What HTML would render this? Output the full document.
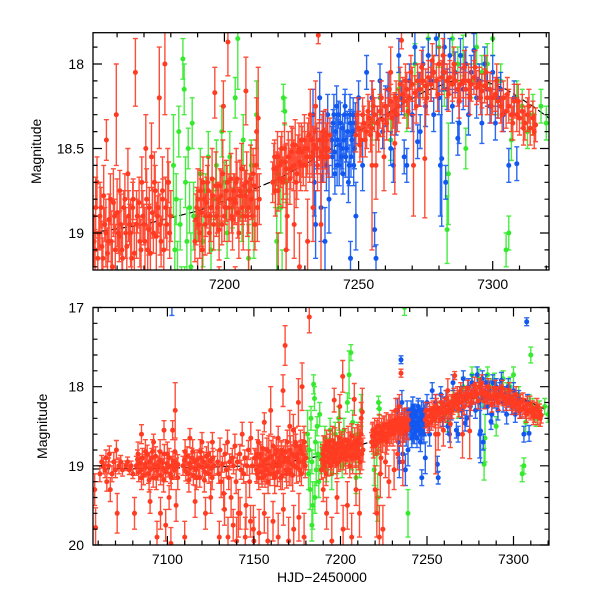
<!DOCTYPE html>
<html><head><meta charset="utf-8"><style>
body{margin:0;background:#fff}
svg{display:block;font-family:"Liberation Sans",sans-serif}
</style></head><body>
<svg id="chart" width="600" height="600"></svg>
<script>
const redPoints=[[7058,19.3,.2],[7058.5,19.78,.25],[7061,19.1,.1],[7062,18.95,.08],[7063,19.0,.1],[7064,19.05,.1],[7064.5,18.9,.1],[7065,19.2,.12],[7066,19.0,.1],[7066.5,18.85,.1],[7067,19.3,.15],[7068,19.1,.1],[7069,18.95,.12],[7070,19.05,.1],[7070.5,18.8,.12],[7071,19.6,.25],[7072,19.0,.1],[7073,18.95,.08],[7074,19.05,.08],
[7076,19.0,.06],[7077,18.95,.06],[7078,19.05,.06],[7079,19.0,.06],[7080,19.1,.06],
[7082,19.0,.12],[7082.7,18.92,.12],[7083.4,19.08,.12],[7084,18.97,.12],[7084.8,19.05,.12],[7085.5,18.9,.12],[7086.2,19.12,.12],[7087,18.98,.12],[7087.6,19.02,.12],[7088.3,18.86,.12],[7089,19.1,.12],[7089.7,18.95,.12],[7090.4,19.04,.12],[7091,18.9,.12],[7091.8,19.15,.12],[7092.5,18.99,.12],[7093.2,18.88,.12],[7094,19.06,.12],[7094.7,19.0,.12],[7095.4,18.93,.12],[7096,19.12,.12],[7096.8,18.96,.12],[7097.5,19.03,.12],[7098.2,18.85,.12],[7099,19.08,.12],[7099.7,18.97,.12],[7100.4,19.02,.12],[7101,18.9,.12],[7101.8,19.1,.12],[7102.5,19.0,.12],[7103.2,18.94,.12],[7104,19.05,.12],[7104.6,18.96,.12],[7105.3,19.02,.12],[7106,18.98,.12],
[7081,19.6,.2],[7085,18.6,.12],[7090,19.45,.15],[7092,18.7,.1],[7094,19.9,.2],[7096,19.6,.2],[7098,18.55,.12],[7099,19.75,.2],[7101,19.4,.15],[7103,18.55,.12],[7104.5,18.3,.35],[7105,19.5,.2],[7102,19.98,.2],
[7109,19.0,.12],[7109.8,18.93,.12],[7110.6,19.07,.12],[7111.3,18.88,.12],[7112,19.1,.12],[7112.8,18.97,.12],[7113.5,19.03,.12],[7114.2,18.9,.12],[7115,19.12,.12],[7115.7,18.95,.12],[7116.4,19.05,.12],[7117.2,18.92,.12],[7118,19.0,.12],[7118.7,19.15,.12],[7119.5,18.9,.12],[7120.2,19.02,.12],[7121,18.95,.12],[7121.8,19.08,.12],[7122.5,18.88,.12],[7123.2,19.0,.12],[7124,19.1,.12],[7124.8,18.94,.12],[7125.5,19.03,.12],[7126.3,18.9,.12],[7127,19.0,.12],
[7110,19.9,.2],[7113,18.65,.12],[7116,19.45,.2],[7120,18.7,.12],[7122,19.6,.2],[7125,19.4,.2],[7126,18.7,.12],
[7129,18.95,.15],[7129.7,19.1,.12],[7130.4,18.8,.15],[7131,19.2,.2],[7131.8,18.98,.1],[7132.5,19.35,.2],[7133.2,18.85,.12],[7134,19.05,.1],[7134.7,18.7,.15],[7135.4,19.15,.15],[7136,18.95,.1],[7136.8,19.4,.25],[7137.5,18.9,.12],[7138.2,19.0,.1],[7139,18.75,.15],[7139.7,19.2,.15],[7140.4,18.95,.1],[7141,19.6,.3],[7141.8,18.85,.12],[7142.5,19.05,.12],[7143.2,18.6,.15],[7144,19.1,.12],[7144.7,18.9,.1],[7145.4,19.5,.3],[7146,19.0,.12],[7146.8,18.8,.12],[7147.5,19.2,.2],[7148.2,18.65,.2],[7149,19.0,.1],[7149.7,19.8,.3],[7150.4,18.9,.12],[7151,18.9,.1],[7151.8,19.1,.12],[7152.5,18.7,.15],[7153.2,19.0,.1],[7154,18.85,.12],[7154.7,19.15,.12],[7155.4,18.95,.1],[7156,18.45,.12],[7156.8,19.05,.12],[7157.5,18.8,.15],[7158.2,19.2,.15],[7159,18.9,.1],[7159.7,18.3,.3],[7160.4,19.0,.12],[7161,18.75,.12],[7161.8,19.1,.15],[7162.5,18.85,.1],[7163.2,19.0,.15],[7164,18.65,.15],[7164.7,18.95,.12],[7165.4,19.15,.15],[7166,18.8,.12],[7166.8,18.05,.2],[7167.5,18.9,.1],[7168,17.48,.25],[7168.5,19.05,.15],[7169.2,18.7,.15],[7170,18.95,.12],[7170.7,18.5,.2],[7171.4,19.1,.15],[7172,18.85,.12],[7172.8,18.55,.2],[7173.5,19.0,.12],[7174.2,18.75,.15],[7175,18.9,.12],[7175.7,18.2,.3],[7176.4,19.05,.15],[7177,18.8,.12],[7177.8,18.0,.3],[7178.5,18.95,.15],[7179.2,18.7,.12],[7180,18.9,.15],[7182,17.12,.2],
[7130,19.9,.2],[7133,19.55,.2],[7135,19.9,.25],[7138,19.75,.2],[7140,19.95,.3],[7142,19.6,.2],[7145,19.9,.25],[7148,19.7,.2],[7150,19.95,.3],[7153,19.85,.3],[7156,19.6,.25],[7158,19.95,.3],[7161,19.7,.25],[7164,19.9,.3],[7167,19.55,.2],[7170,19.95,.3],[7173,19.8,.3],[7176,19.65,.3],[7179,19.9,.3],
[7189,19.05,.12],[7189.7,18.85,.12],[7190.4,18.95,.1],[7191,18.75,.12],[7191.7,19.1,.15],[7192.4,18.8,.1],[7193,18.9,.12],[7193.7,18.7,.1],[7194.4,19.0,.12],[7195,18.85,.1],[7195.7,18.78,.1],[7196.4,18.17,.15],[7197,18.9,.12],[7197.7,18.8,.1],[7198.4,18.72,.1],[7199,18.95,.12],[7199.6,18.25,.15],[7200.3,18.85,.1],[7201,18.7,.1],[7201.3,17.87,.2],[7202,18.8,.12],[7202.7,18.9,.1],[7203.4,18.75,.1],[7204,18.82,.12],[7204.7,18.68,.1],[7205.4,19.0,.15],[7206,18.78,.1],[7206.7,18.85,.1],[7207.4,18.72,.12],[7208,18.16,.2],[7208.6,18.9,.12],[7209.3,18.75,.1],[7210,18.8,.12],[7210.7,18.65,.15],[7211.4,18.95,.15],[7212,18.4,.2],[7212.6,18.32,.3],[7213,18.8,.15],
[7190,19.3,.15],[7192,19.6,.2],[7195,19.95,.3],[7198,19.4,.2],[7201.5,19.8,.3],[7204,19.5,.3],[7206.5,19.9,.3],[7209,19.3,.2],[7211,19.6,.3],
[7218,18.7,.12],[7218.7,18.55,.1],[7219.4,18.62,.1],[7220,18.75,.12],[7220.7,18.6,.1],[7221.4,18.5,.1],[7222,18.68,.12],[7222.7,18.58,.1],[7223.4,18.9,.2],[7224,18.55,.1],[7224.7,18.62,.12],[7225.4,18.48,.1],[7226,18.6,.1],[7226.7,18.7,.15],[7227.4,18.52,.1],[7228,18.58,.12],[7228.7,18.45,.1],[7229.4,18.6,.12],[7230,18.5,.1],[7230.7,18.55,.12],[7231.4,18.42,.1],[7232,18.3,.15],[7232.7,18.55,.12],[7233.4,18.48,.1],[7234,18.25,.15],[7234.7,18.6,.15],[7235.4,18.45,.12],[7236,18.52,.1],[7236.7,18.4,.12],[7237.4,18.5,.12],[7238,18.45,.1],[7238.7,18.55,.12],[7239.3,18.42,.1],[7235,17.83,.05],
[7220,19.3,.3],[7221,19.6,.3],[7222.5,19.9,.4],[7223,19.1,.3],[7224.5,19.8,.3],[7226,18.95,.2],[7228,19.2,.2],[7231,19.05,.25],[7233,18.85,.2],[7236,18.95,.3],
[7249,18.42,.1],[7250,18.38,.1],[7251,18.45,.1],[7252,18.35,.1],[7253,18.4,.1],[7254,18.32,.1],[7255,18.38,.1],[7256,18.3,.1],[7256.5,18.6,.2],[7257,18.35,.1],[7258,18.28,.1],[7259,18.33,.1],[7259.5,18.55,.2],[7260,18.25,.1],[7261,18.3,.1],[7262,18.22,.1],[7263,18.28,.1],[7264,18.2,.1],[7265,18.25,.1],[7266,17.86,.05],[7266.5,18.18,.1],[7267,18.22,.1],[7268,18.15,.1],[7269,18.2,.1],[7270,18.12,.1],[7270.5,18.6,.3],[7271,18.17,.1],[7272,18.1,.1],[7273,18.15,.1],[7274,18.1,.1],[7275,18.13,.1],[7276,18.08,.1],[7277,18.12,.1],[7278,18.05,.1],[7279,18.1,.1],[7280,18.0,.1],[7281,18.08,.1],[7282,18.05,.1],[7283,18.1,.1],[7284,18.08,.1],[7285,18.12,.1],[7286,18.1,.1],[7287,18.15,.1],[7288,18.12,.1],[7289,18.1,.1],[7290,18.15,.1],[7291,18.1,.1],[7292,18.12,.1],[7293,18.08,.1],[7294,18.14,.1],[7295,18.12,.1],[7296,18.16,.1],[7297,18.13,.1],[7298,18.2,.1],[7299,18.15,.1],[7300,18.2,.1],[7301,18.18,.1],[7302,18.22,.1],[7303,18.25,.1],[7304,18.2,.1],[7305,18.28,.1],[7306,18.25,.1],[7307,18.3,.1],[7308,18.22,.1],[7309,18.3,.1],[7310,18.32,.1],[7311,18.28,.1],[7312,18.35,.1],[7313,18.3,.1],[7314,18.38,.1],[7315,18.32,.1],[7316,18.36,.1],
[7262,18.05,.15],[7263.5,18.47,.3],[7274.7,18.56,.35],[7255,18.6,.5]];
const redExtra=[[7151.4,19.05,.15],[7152,18.85,.18],[7152.8,19.15,.15],[7153.6,18.9,.2],[7154.3,19.08,.15],[7155,18.78,.18],[7155.8,19.0,.2],[7156.4,19.12,.15],[7157,18.92,.15],[7157.8,19.05,.18],[7158.6,18.82,.2],[7159.3,19.1,.15],[7160,18.88,.2],[7160.8,19.02,.15],[7161.4,18.95,.18],[7162,19.15,.2],[7162.9,18.8,.15],[7163.6,19.08,.18],[7164.3,18.9,.15],[7165,19.0,.2],[7165.8,18.85,.15],[7166.4,19.12,.18],[7167.2,18.95,.2],[7168.2,18.82,.15],[7168.9,19.1,.18],[7169.6,18.9,.15],[7170.4,19.05,.2],[7171,18.8,.18],[7171.8,18.98,.15],[7172.4,19.12,.2],[7173.1,18.88,.15],[7173.9,18.7,.18],[7174.6,19.02,.2],[7175.3,18.85,.15],[7176,18.95,.18],[7176.9,18.75,.2],[7177.4,19.1,.15],[7178.1,18.85,.18],[7178.9,18.7,.2],[7179.6,19.0,.15],
[7189.4,18.92,.15],[7190.1,18.8,.18],[7190.8,19.0,.15],[7191.4,18.88,.2],[7192,18.7,.15],[7192.8,18.95,.18],[7193.4,18.82,.15],[7194,18.75,.2],[7194.8,18.9,.15],[7195.4,18.68,.18],[7196,18.95,.15],[7196.8,18.72,.2],[7197.4,18.85,.15],[7198,18.98,.18],[7198.8,18.78,.15],[7199.4,18.65,.2],[7200,18.9,.15],[7200.7,18.75,.18],[7201.7,18.85,.2],[7202.4,18.68,.15],[7203,18.92,.18],[7203.8,18.8,.15],[7204.4,18.7,.2],[7205,18.88,.15],[7205.8,18.75,.18],[7206.4,18.62,.15],[7207,18.9,.2],[7207.8,18.78,.15],[7208.3,18.7,.18],[7209,18.85,.15],[7209.7,18.68,.2],[7210.4,18.9,.15],[7211,18.72,.18],[7211.8,18.6,.15],[7212.3,18.85,.2],
[7218.4,18.62,.15],[7219,18.75,.15],[7219.8,18.55,.15],[7220.4,18.68,.15],[7221,18.58,.15],[7221.8,18.7,.15],[7222.4,18.5,.15],[7223,18.62,.15],[7223.8,18.55,.15],[7224.4,18.68,.15],[7225,18.52,.15],[7225.8,18.6,.15],[7226.4,18.48,.15],[7227,18.65,.15],[7227.8,18.5,.15],[7228.4,18.6,.15],[7229,18.52,.15],[7229.8,18.45,.15],[7230.4,18.6,.15],[7231,18.5,.15],[7231.8,18.55,.15],[7232.4,18.45,.15],[7233,18.52,.15],[7233.8,18.4,.15],[7234.4,18.5,.15],[7235.8,18.55,.15],[7236.4,18.45,.15],[7237,18.55,.15],[7237.8,18.42,.15],[7238.4,18.5,.15],
[7249.5,18.3,.1],[7250.5,18.48,.1],[7251.5,18.3,.1],[7252.5,18.45,.1],[7253.5,18.28,.1],[7254.5,18.42,.1],[7255.5,18.25,.1],[7257.5,18.42,.1],[7258.5,18.2,.1],[7260.5,18.35,.1],[7261.5,18.15,.1],[7262.5,18.32,.1],[7264.5,18.3,.1],[7265.5,18.12,.1],[7267.5,18.1,.1],[7268.5,18.28,.1],[7269.5,18.05,.1],[7271.5,18.25,.1],[7273.5,18.02,.1],[7275.5,18.2,.1],[7277.5,17.98,.1],[7279.5,18.18,.1],[7281.5,17.95,.1],[7283.5,18.18,.1],[7285.5,18.0,.1],[7287.5,18.22,.1],[7289.5,18.02,.1],[7291.5,18.2,.1],[7293.5,18.02,.1],[7295.5,18.2,.1],[7297.5,18.05,.1],[7299.5,18.25,.1],[7301.5,18.1,.1],[7303.5,18.3,.1],[7305.5,18.18,.1],[7307.5,18.35,.1],[7309.5,18.22,.1],[7311.5,18.38,.1],[7313.5,18.25,.1],[7315.5,18.4,.1],
[7083,18.85,.15],[7085,19.15,.15],[7087.3,18.82,.15],[7089.4,19.18,.15],[7091.4,18.82,.15],[7093.6,19.15,.15],[7095.8,18.82,.15],[7097.8,19.18,.15],[7100,18.85,.15],[7102.2,19.15,.15],[7104.3,18.82,.15],[7106,19.15,.15],[7110.2,18.82,.15],[7112.4,19.18,.15],[7114.6,18.82,.15],[7116.8,19.15,.15],[7119,18.82,.15],[7121.4,19.18,.15],[7123.6,18.85,.15],[7125.9,19.15,.15]];
const greenPoints=[[7181,18.6,.3],[7181.5,19.1,.2],[7182,18.8,.15],[7182.5,19.3,.25],[7183,18.4,.15],[7183.5,18.95,.15],[7184,19.5,.3],[7184.5,17.97,.12],[7185,18.15,.15],[7185.5,18.7,.15],[7186,19.05,.2],[7186.5,18.5,.12],[7187,18.85,.15],[7187.5,19.2,.2],[7188,18.35,.15],[7188.5,18.9,.2],[7183.5,19.75,.2],[7185.2,19.4,.2],
[7190,18.9,.15],[7191,18.65,.15],[7192,19.05,.15],[7193,18.75,.1],[7194,18.55,.15],[7195,19.1,.2],[7196,18.8,.12],[7197,18.6,.15],[7198,18.95,.15],[7199,18.4,.15],[7200,18.7,.12],[7201,19.0,.15],[7202,18.55,.15],[7203,18.85,.12],[7204,18.2,.12],[7205,17.85,.3],[7206,17.57,.1],[7206.5,18.9,.15],[7207,18.45,.15],[7208,18.75,.12],[7209,19.15,.2],[7210,18.6,.15],[7211,18.95,.2],[7212,18.3,.2],
[7219,18.75,.1],[7220,18.65,.1],[7221,18.85,.15],[7222,18.2,.08],[7222.5,18.28,.08],[7223,18.7,.12],[7219.5,19.05,.2],[7221.5,19.4,.3],
[7237,17.0,.1],[7238,18.5,.1],[7239,19.6,.3],
[7255,18.35,.1],[7258,18.2,.1],[7262,18.45,.12],[7265,18.15,.1],[7268,18.3,.1],[7271,18.0,.12],[7274,18.1,.1],[7276,17.85,.1],[7278,18.05,.1],[7280,17.9,.12],[7282,18.15,.1],[7283,18.98,.2],[7283.5,18.65,.3],[7285,17.85,.1],[7287,18.0,.1],[7289,17.95,.12],[7290,18.5,.12],[7292,18.1,.1],[7294,17.9,.1],[7296,18.05,.1],[7298,18.0,.12],[7300,17.85,.1],[7301,18.2,.1],[7303,18.1,.1],[7305,19.1,.1],[7306,19.0,.1],[7307,18.45,.12],[7309,18.2,.1],[7310,17.6,.1],[7311,18.25,.1],[7313,18.4,.1],[7315,18.3,.12],[7318,18.25,.1],[7320,18.35,.1]];
const bluePoints=[[7102.6,16.9,.2],
[7233,18.3,.15],[7233.5,18.7,.2],[7234,18.95,.2],[7234.5,18.5,.12],[7235,17.66,.05],[7235.5,18.2,.15],[7236,18.85,.2],[7236.5,18.55,.15],[7237,18.4,.12],[7237.5,19.05,.2],[7238,18.6,.15],[7238.5,18.3,.12],[7239,18.8,.2],[7240,18.45,.08],[7240.5,18.35,.08],[7241,18.52,.1],[7241.5,18.4,.08],[7242,18.6,.12],[7242.5,18.3,.08],[7243,18.48,.1],[7243.5,18.55,.1],[7244,18.38,.08],[7244.5,18.45,.1],[7245,18.25,.1],[7245.5,18.5,.08],[7246,18.4,.08],[7246.5,18.6,.12],[7247,18.35,.08],[7247,19.15,.1],[7247.5,18.45,.1],[7248,18.3,.1],[7248.5,18.5,.12],[7249,18.9,.2],[7250,18.2,.1],[7251.5,18.6,.15],[7253,18.05,.1],
[7240.2,18.55,.12],[7240.8,18.3,.12],[7241.2,18.65,.12],[7241.8,18.25,.12],[7242.2,18.45,.12],[7242.8,18.6,.12],[7243.2,18.35,.12],[7243.8,18.5,.12],[7244.2,18.65,.12],[7244.8,18.3,.12],[7245.2,18.55,.12],[7245.8,18.4,.12],[7246.2,18.7,.12],[7246.8,18.3,.12],[7247.2,18.55,.12],[7247.8,18.4,.12],[7248.2,18.6,.12],[7248.8,18.35,.12],
[7255,18.2,.1],[7256,18.98,.1],[7256.5,19.15,.08],[7257,18.35,.1],[7258,18.1,.1],[7259,18.4,.1],[7260,18.25,.12],[7261,18.15,.1],[7262,18.5,.1],[7263,18.6,.1],[7264,18.3,.12],[7265,17.95,.1],[7266,18.2,.1],[7267,18.55,.1],[7268,18.6,.1],[7269,18.1,.1],[7270,18.3,.1],[7271,17.9,.1],[7272,18.46,.1],[7272.5,18.15,.1],[7273,18.4,.1],[7274,18.0,.1],[7275,18.25,.12],[7276,17.95,.1],[7277,18.1,.12],[7278,18.3,.1],[7279,17.85,.1],[7280,18.2,.1],[7280.5,18.6,.3],[7281,18.56,.4],[7281.5,18.05,.1],[7282,17.9,.1],[7282.5,18.7,.1],[7283,18.15,.12],[7284,17.95,.1],[7285,18.25,.1],[7286,18.05,.12],[7287,18.44,.1],[7287.5,18.35,.12],[7288,17.95,.1],[7289,18.15,.12],[7290,18.0,.1],[7291,18.3,.12],[7292,18.05,.1],[7293,17.92,.1],[7294,18.2,.12],[7295,18.1,.1],[7296,18.35,.12],[7297,18.0,.1],[7298,18.15,.1],[7299,18.25,.1],[7300,18.05,.1],[7301,18.35,.1],[7302,18.2,.12],[7303,18.15,.1],[7304,18.3,.1],[7306,18.6,.1],[7307.6,17.18,.05],[7308,18.2,.1],[7309,18.59,.1]];
const modelDays=[7057,7100,7150,7170,7190,7205,7220,7235,7245,7255,7265,7275,7285,7295,7305,7315,7321];
const modelMags=[19.04,19.03,19.0,18.95,18.87,18.78,18.68,18.55,18.45,18.35,18.25,18.16,18.1,18.09,18.15,18.25,18.32];
const topXTicks=[7200,7250,7300];
const topYTicks=[18,18.5,19];
const botXTicks=[7100,7150,7200,7250,7300];
const botYTicks=[17,18,19,20];

const NS="http://www.w3.org/2000/svg";
const svg=document.getElementById('chart');
function mk(tag,attrs,parent){const e=document.createElementNS(NS,tag);for(const k in attrs)e.setAttribute(k,attrs[k]);(parent||svg).appendChild(e);return e;}
const panels=[
 {id:'top',x0:93,x1:549,y0:32.7,y1:270,d0:7151,d1:7321,m0:17.815,m1:19.219,xt:topXTicks,yt:topYTicks,yminor:0.1},
 {id:'bottom',x0:93,x1:549,y0:307.5,y1:545,d0:7057,d1:7320.5,m0:17,m1:20,xt:botXTicks,yt:botYTicks,yminor:0.2}];
const colors={red:'#ff3b22',green:'#35ea2e',blue:'#1258f0'};
const seriesList=[['green',greenPoints],['blue',bluePoints],['red',redPoints.concat(redExtra)]];
panels.forEach((p,pi)=>{
 const X=d=>p.x0+(d-p.d0)/(p.d1-p.d0)*(p.x1-p.x0);
 const Y=m=>p.y0+(m-p.m0)/(p.m1-p.m0)*(p.y1-p.y0);
 const g=mk('g',{});
 
 
 const cp=mk('clipPath',{id:'clip'+pi},g);
 mk('rect',{x:p.x0,y:p.y0,width:p.x1-p.x0,height:p.y1-p.y0},cp);
 const plot=mk('g',{'clip-path':'url(#clip'+pi+')'},g);
 let dstr='';modelDays.forEach((d,i)=>{dstr+=(i?'L':'M')+X(d).toFixed(1)+' '+Y(modelMags[i]).toFixed(1);});
 const mline=mk('path',{d:dstr,fill:'none',stroke:'#000','stroke-width':1.2,'stroke-dasharray':'7 3'},plot);
 
 
 seriesList.forEach(([c,arr])=>{
  const sg=mk('g',{},plot);
  
  
  let bars='';
  arr.forEach(([d,m,e])=>{const x=X(d),ya=Y(m-e),yb=Y(m+e);
   bars+=`M${x.toFixed(1)} ${ya.toFixed(1)}V${yb.toFixed(1)}M${(x-2.5).toFixed(1)} ${ya.toFixed(1)}h5M${(x-2.5).toFixed(1)} ${yb.toFixed(1)}h5`;});
  const bp=mk('path',{d:bars,stroke:colors[c],'stroke-width':1.4,fill:'none','stroke-opacity':0.9},sg);
  
  
  arr.forEach(([d,m,e])=>{
   const pt=mk('circle',{cx:X(d).toFixed(1),cy:Y(m).toFixed(1),r:2.5,fill:colors[c]},sg);
   
   
  });
 });
 const fr=mk('rect',{x:p.x0,y:p.y0,width:p.x1-p.x0,height:p.y1-p.y0,fill:'none',stroke:'#000','stroke-width':1.3},g);
 
 
 let tk='';
 for(let d=Math.ceil(p.d0/10)*10;d<=p.d1;d+=10){const x=X(d).toFixed(1);const L=(d%50===0)?9:4.5;tk+=`M${x} ${p.y1}v${-L}M${x} ${p.y0}v${L}`;}
 const nMin=Math.round((p.m1-p.m0)/p.yminor)+2;
 for(let i=0;i<nMin;i++){const m=Math.ceil(p.m0/p.yminor-1e-6)*p.yminor+i*p.yminor;if(m>p.m1+1e-6)break;const y=Y(m).toFixed(1);
  const isMaj=p.yt.some(v=>Math.abs(v-m)<1e-6);const L=isMaj?9:4.5;tk+=`M${p.x0} ${y}h${L}M${p.x1} ${y}h${-L}`;}
 const tp=mk('path',{d:tk,stroke:'#000','stroke-width':1.2,fill:'none'},g);
 
 
 p.xt.forEach(v=>{const t=mk('text',{x:X(v),y:p.y1+19,'text-anchor':'middle','font-size':14},g);t.textContent=String(v);
  
  });
 p.yt.forEach(v=>{const t=mk('text',{x:p.x0-9,y:Y(v)+5,'text-anchor':'end','font-size':14},g);t.textContent=String(v);
  
  });
 const yl=mk('text',{x:0,y:0,'text-anchor':'middle','font-size':14,transform:`translate(${pi?47:41},${(p.y0+p.y1)/2}) rotate(-90)`},g);
 yl.textContent='Magnitude';
 
 
});
const xl=mk('text',{x:322,y:582,'text-anchor':'middle','font-size':14});
xl.textContent='HJD\u22122450000';


</script>
</body></html>
